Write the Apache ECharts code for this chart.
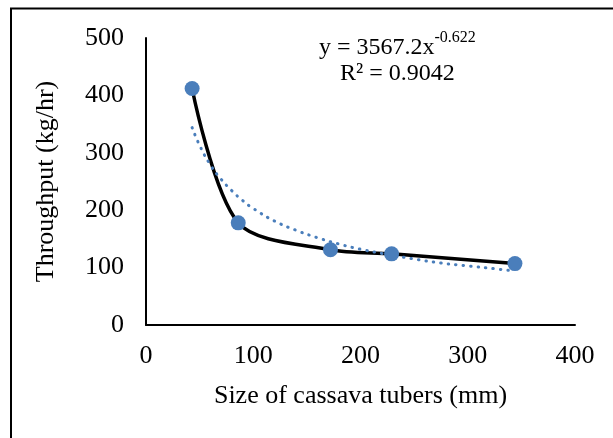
<!DOCTYPE html>
<html>
<head>
<meta charset="utf-8">
<script src="https://cdn.jsdelivr.net/npm/echarts@6/dist/echarts.min.js"></script>
<style>
html,body{margin:0;padding:0;background:#fff;}
#c{width:613px;height:438px;}
</style>
</head>
<body>
<div id="c"></div>
<script>
// Measured points
const sizes = [43, 86, 172, 229, 344];
const throughput = [412, 178, 131, 124, 107];
// Power trendline
const trendX = [43, 50, 60, 70, 80, 90, 100, 120, 140, 160, 180, 200, 225, 250, 275, 300, 325, 344];
const trendY = [344, 313, 279, 254, 234, 217, 203, 181, 165, 152, 141, 132, 123, 115, 108, 103, 98, 94];
const xTicks = [0, 100, 200, 300, 400];
const yTicks = [0, 100, 200, 300, 400, 500];
const xTitle = 'Size of cassava tubers (mm)';
const yTitle = 'Throughput (kg/hr)';
const eqMain = 'y = 3567.2x';
const eqExp = '-0.622';
const r2Text = 'R² = 0.9042';

const FONT = '"Liberation Serif", "Times New Roman", serif';
const BLUE = '#4A7EBB';

const chart = echarts.init(document.getElementById('c'), null, {renderer: 'canvas'});
const pts = sizes.map((x, i) => [x, throughput[i]]);
const trend = trendX.map((x, i) => [x, trendY[i]]);

chart.setOption({
  animation: false,
  backgroundColor: '#fff',
  grid: {left: 146, right: 38, top: 38, bottom: 113, containLabel: false},
  xAxis: {
    type: 'value', min: xTicks[0], max: xTicks[xTicks.length - 1], interval: 100,
    name: xTitle, nameLocation: 'middle', nameGap: 58,
    nameTextStyle: {fontFamily: FONT, fontSize: 26, color: '#000'},
    axisLine: {show: true, onZero: false, lineStyle: {color: '#000', width: 2}},
    axisTick: {show: false},
    splitLine: {show: false},
    axisLabel: {fontFamily: FONT, fontSize: 26, color: '#000', margin: 18}
  },
  yAxis: {
    type: 'value', min: yTicks[0], max: yTicks[yTicks.length - 1], interval: 100,
    name: yTitle, nameLocation: 'middle', nameGap: 87,
    nameTextStyle: {fontFamily: FONT, fontSize: 26, color: '#000'},
    axisLine: {show: true, onZero: false, lineStyle: {color: '#000', width: 2}},
    axisTick: {show: false},
    splitLine: {show: false},
    axisLabel: {fontFamily: FONT, fontSize: 26, color: '#000', margin: 22}
  },
  series: [
    {
      type: 'line', data: pts, smooth: 0.3, showSymbol: false, symbol: 'none',
      lineStyle: {color: '#000', width: 3.5}, z: 2
    },
    {
      type: 'line', data: trend, smooth: true, showSymbol: false, symbol: 'none',
      lineStyle: {color: BLUE, width: 3, type: [0.5, 7], cap: 'round'}, z: 3
    },
    {
      type: 'scatter', data: pts, symbol: 'circle', symbolSize: 15,
      itemStyle: {color: BLUE, opacity: 1}, z: 4
    }
  ],
  graphic: [
    {type: 'line', shape: {x1: 11, y1: 8, x2: 11, y2: 438}, style: {stroke: '#000', lineWidth: 2}},
    {type: 'line', shape: {x1: 10, y1: 8.5, x2: 613, y2: 8.5}, style: {stroke: '#000', lineWidth: 2}},
    {
      type: 'text', left: 319, top: 30,
      style: {
        text: '{m|' + eqMain + '}{s|' + eqExp + '}',
        rich: {
          m: {fontFamily: FONT, fontSize: 24, fill: '#000', lineHeight: 30, verticalAlign: 'bottom'},
          s: {fontFamily: FONT, fontSize: 16, fill: '#000', lineHeight: 30, verticalAlign: 'top', padding: [0, 0, 12, 0]}
        }
      }
    },
    {
      type: 'text', left: 340, top: 62,
      style: {text: r2Text, fontFamily: FONT, fontSize: 24, fill: '#000'}
    }
  ]
});
</script>
</body>
</html>
